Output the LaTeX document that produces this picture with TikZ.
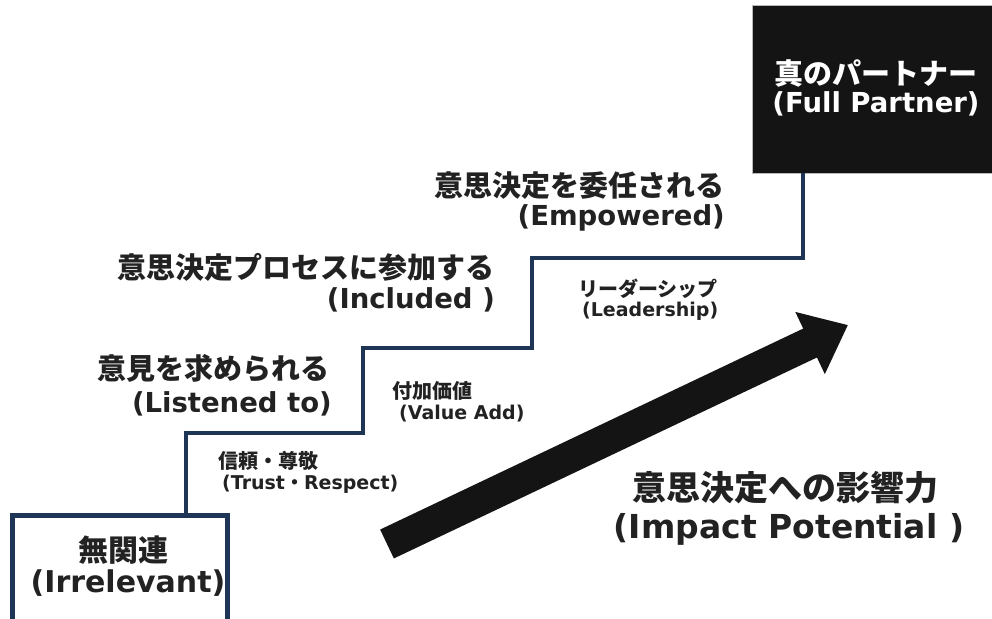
\documentclass[tikz,border=0pt]{standalone}
\usepackage{fontspec}
\setmainfont{DejaVu Sans}
\newfontfamily\jp{Noto Sans CJK JP}
\usetikzlibrary{arrows.meta,calc}
\definecolor{navy}{HTML}{1E3556}
\definecolor{ink}{HTML}{222222}
\definecolor{fpblack}{HTML}{141414}
\tikzset{
  jpbig/.style={font=\jp\bfseries\fontsize{29}{34}\selectfont, text=ink, inner sep=0pt},
  enbig/.style={font=\bfseries\fontsize{27.5}{32}\selectfont, text=ink, inner sep=0pt},
  jpsmall/.style={font=\jp\bfseries\fontsize{20}{24}\selectfont, text=ink, inner sep=0pt},
  ensmall/.style={font=\bfseries\fontsize{19}{23}\selectfont, text=ink, inner sep=0pt},
  stair/.style={draw=navy, line width=3.5pt, line join=miter},
}
\begin{document}
\begin{tikzpicture}[x=1pt,y=-1pt]
\useasboundingbox (0,0) rectangle (992,618);
\clip (0,0) rectangle (992,618);
\fill[white] (0,0) rectangle (992,618);

% boxes
\node[draw=navy, line width=5pt, minimum width=215pt, minimum height=115pt,
      anchor=north west, outer sep=0pt, inner sep=0pt] (irr) at (12,515) {};
\node[fill=fpblack, draw=gray!55, line width=1pt, minimum width=245pt, minimum height=167pt,
      anchor=north west, outer sep=0pt, inner sep=0pt] (fp) at (752,6) {};

% staircase corners
\coordinate (c0) at (186,515);
\coordinate (c1) at (363,433);
\coordinate (c2) at (532,348);
\coordinate (c3) at (803,258);
\draw[stair] (c0) |- (c1) |- (c2) |- (c3) -- (fp.south -| c3);

% big arrow
\coordinate (a0) at (387,544);
\coordinate (a1) at (848,325);
\draw[fpblack, line width=32pt, -{Triangle[length=42pt,width=66pt]}] (a0) -- (a1);

% box texts
\node[jpbig, font=\jp\bfseries\fontsize{30}{34}\selectfont] (irrjp) at (123,550) {無関連};
\node[enbig, font=\bfseries\fontsize{30}{34}\selectfont] (irren) at (128,583) {(Irrelevant)};
\node[jpbig, text=white] (fpjp) at (876,73) {真のパートナー};
\node[enbig, text=white] (fpen) at (876,104) {(Full Partner)};

% step labels
\node[jpbig, anchor=east] (l1jp) at (330,368) {意見を求められる};
\node[enbig, anchor=east] (l1en) at (332,404) {(Listened to)};
\node[jpbig, anchor=east] (l2jp) at (495,267) {意思決定プロセスに参加する};
\node[enbig, anchor=east] (l2en) at (495,300) {(Included )};
\node[jpbig, anchor=east] (l3jp) at (725,186) {意思決定を委任される};
\node[enbig, anchor=east] (l3en) at (725,218) {(Empowered)};

% riser labels
\node[jpsmall, anchor=west] (r1jp) at (218,461) {信頼{\jp ・}尊敬};
\node[ensmall, anchor=west] (r1en) at (222,484) {(Trust{\jp\bfseries ・}Respect)};
\node[jpsmall, anchor=west] (r2jp) at (392,391) {付加価値};
\node[ensmall, anchor=west] (r2en) at (399,414) {(Value Add)};
\node[jpsmall, anchor=west] (r3jp) at (578,289) {リーダーシップ};
\node[ensmall, anchor=west] (r3en) at (582,311) {(Leadership)};

% impact label
\node[jpbig, font=\jp\bfseries\fontsize{34}{38}\selectfont] (impjp) at (785,488) {意思決定への影響力};
\node[enbig, font=\bfseries\fontsize{33}{38}\selectfont] (impen) at (789,529) {(Impact Potential )};
\end{tikzpicture}
\end{document}
